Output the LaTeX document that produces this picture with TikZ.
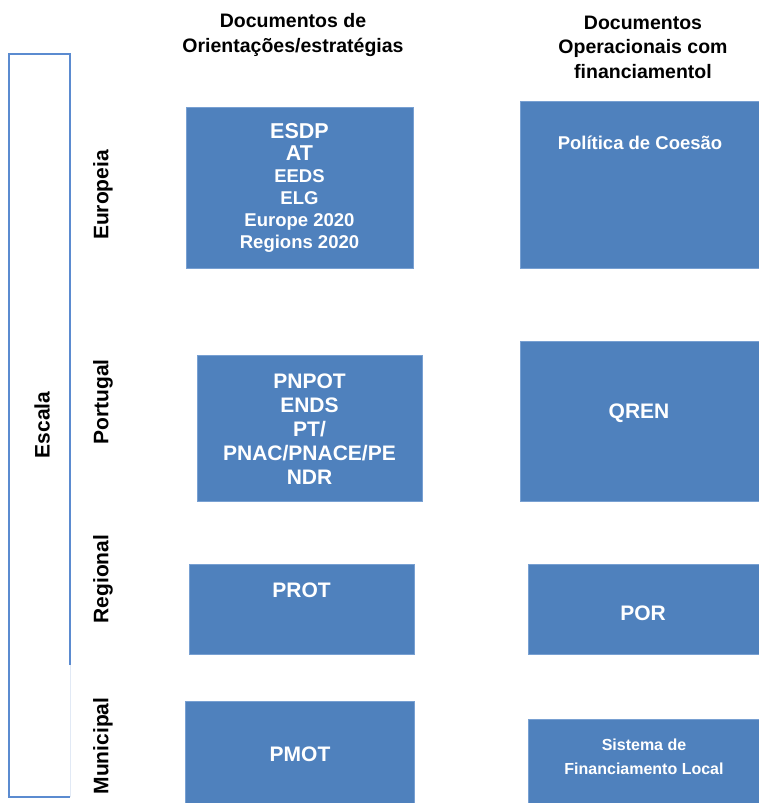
\documentclass[tikz,border=0pt]{standalone}
\usepackage{fontspec}
\setmainfont{Liberation Sans}
\definecolor{boxblue}{RGB}{79,129,189}
\definecolor{boxedge}{RGB}{120,160,210}
\definecolor{barblue}{RGB}{91,139,208}
\definecolor{barfaint}{RGB}{225,233,245}
\begin{document}
\begin{tikzpicture}[x=1pt,y=-1pt,
  blk/.style={fill=boxblue,draw=boxedge,line width=0.6pt,anchor=north west,inner sep=0pt,outer sep=0pt},
  wtext/.style={text=white,font=\bfseries\fontsize{21}{24}\selectfont,align=center,inner sep=0pt},
  head/.style={text=black,font=\bfseries\fontsize{19.5}{24.5}\selectfont,align=center,inner sep=0pt},
  rowlab/.style={text=black,font=\bfseries\fontsize{21}{24}\selectfont,rotate=90,inner sep=0pt}]
\useasboundingbox (0,0) rectangle (758,803);
% scale bar
\draw[barfaint,line width=1pt] (70,665) -- (70,797);
\draw[barblue,line width=1.4pt] (70,665) -- (70,54) -- (9,54) -- (9,797) -- (70,797);
\node[rowlab] (escala) at (42,425) {Escala};
% headers
\node[head] (h1) at (293,35) {Documentos de\\Orientações/estratégias};
\node[head] (h2) at (643,47) {Documentos\\Operacionais com\\financiamentol};
% row labels
\node[rowlab] (europeia) at (103,195) {Europeia};
\node[rowlab] (portugal) at (103,402) {Portugal};
\node[rowlab] (regional) at (103,579) {Regional};
\node[rowlab] (municipal) at (103,746) {Municipal};
% boxes left column
\node[blk,minimum width=227pt,minimum height=161pt] (esdpbox) at (186,107) {};
\node[wtext,font=\bfseries\fontsize{18.5}{22}\selectfont] (esdp) at (299.5,187.5)
  {{\fontsize{21.5}{22}\selectfont ESDP}\\{\fontsize{21.5}{22}\selectfont AT}\\EEDS\\ELG\\Europe 2020\\Regions 2020};
\node[blk,minimum width=225pt,minimum height=146pt] (pnpotbox) at (197,355) {};
\node[wtext] (pnpot) at (309.5,429) {PNPOT\\ENDS\\PT/\\PNAC/PNACE/PE\\NDR};
\node[blk,minimum width=225pt,minimum height=90pt] (protbox) at (189,564) {};
\node[wtext] (prot) at (301.5,590) {PROT};
\node[blk,minimum width=229pt,minimum height=110pt] (pmotbox) at (185,701) {};
\node[wtext] (pmot) at (300,754) {PMOT};
% boxes right column
\node[blk,minimum width=240pt,minimum height=167pt] (polbox) at (520,101) {};
\node[wtext,font=\bfseries\fontsize{18.5}{18}\selectfont] (pol) at (640,143) {Política de Coesão};
\node[blk,minimum width=240pt,minimum height=160pt] (qrenbox) at (520,341) {};
\node[wtext] (qren) at (639,413) {QREN};
\node[blk,minimum width=232pt,minimum height=90pt] (porbox) at (528,564) {};
\node[wtext] (por) at (643,613) {POR};
\node[blk,minimum width=232pt,minimum height=90pt] (sisbox) at (528,719) {};
\node[wtext,font=\bfseries\fontsize{16}{24}\selectfont] (sis) at (644,757) {Sistema de\\Financiamento Local};
\end{tikzpicture}
\end{document}
